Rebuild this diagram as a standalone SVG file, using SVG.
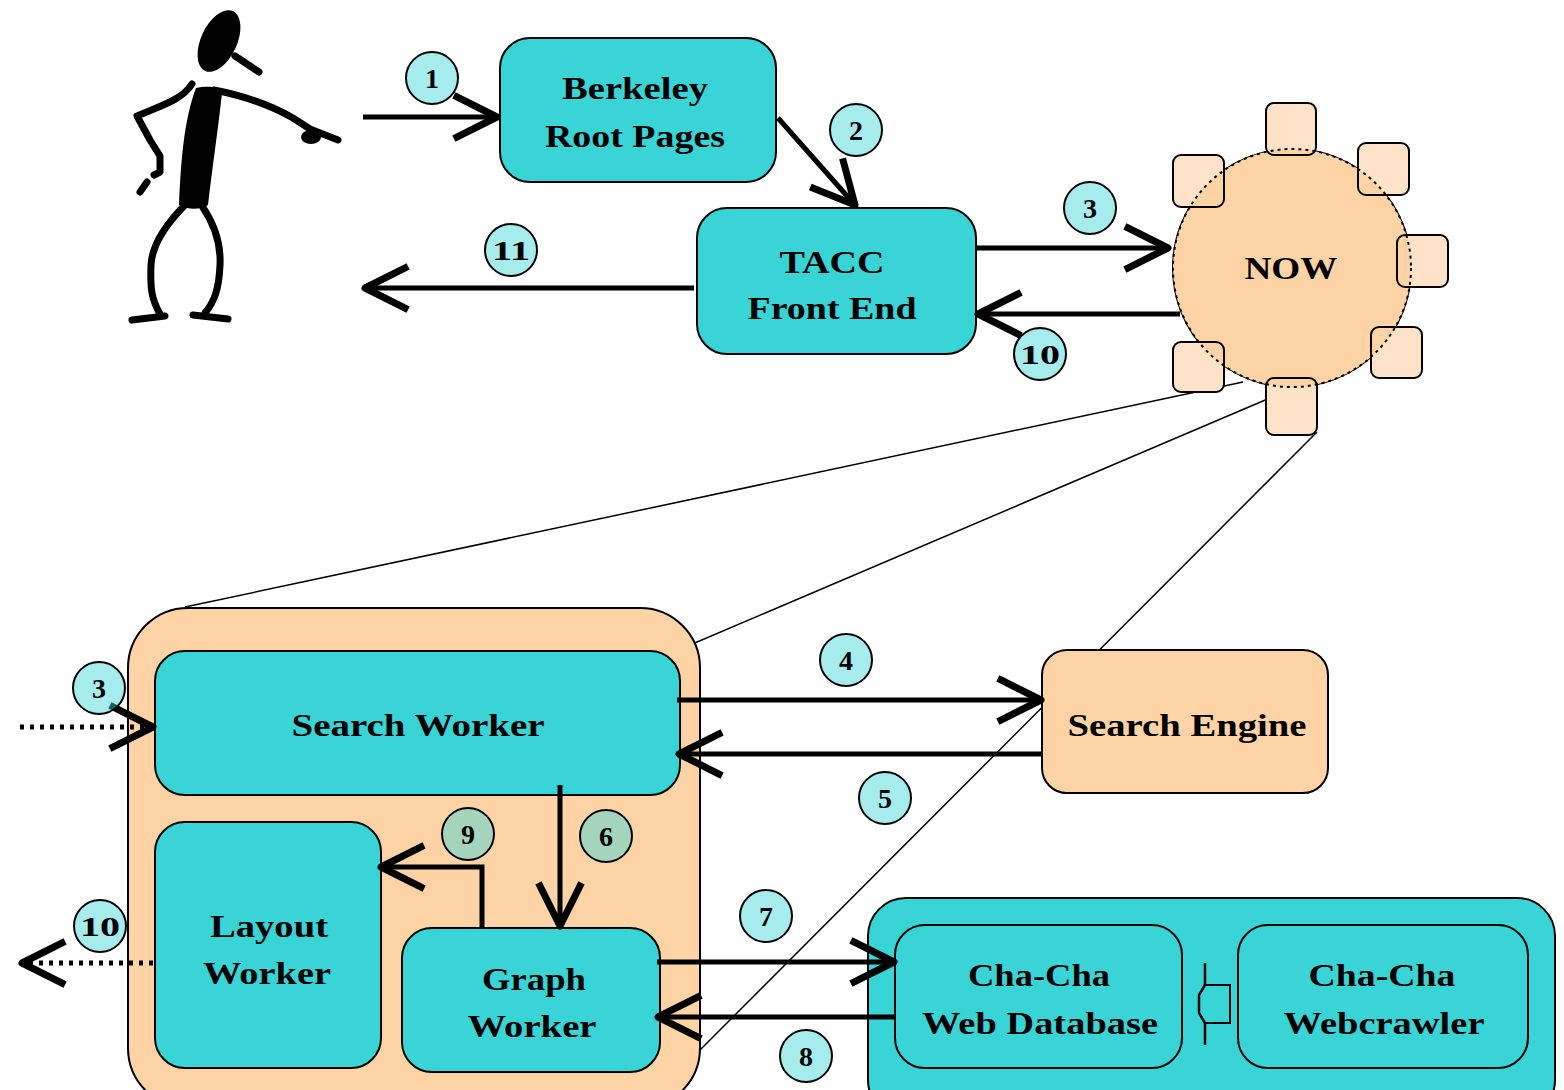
<svg xmlns="http://www.w3.org/2000/svg" width="1564" height="1090" viewBox="0 0 1564 1090">
  <defs>
    <marker id="ah" markerUnits="userSpaceOnUse" viewBox="-46 -26 52 52" markerWidth="52" markerHeight="52" refX="0" refY="0" orient="auto" overflow="visible">
      <path d="M-40,-20 L0,0 L-40,20" fill="none" stroke="#000" stroke-width="7" stroke-linejoin="round" stroke-linecap="square"/>
    </marker>
    <style>
      .cyan { fill: #39d4d6; stroke: #000; stroke-width: 2; }
      .peach { fill: #fed3a6; stroke: #000; stroke-width: 2; }
      .lbl { font-family: "Liberation Serif", "Times New Roman", serif; font-weight: bold; font-size: 32px; fill: #000; text-anchor: middle; }
      .num { font-family: "Liberation Serif", "Times New Roman", serif; font-weight: bold; font-size: 28px; fill: #000; text-anchor: middle; }
      .badge { fill: #39d4d6; fill-opacity: 0.45; stroke: #000; stroke-width: 2; }
      .arrow { fill: none; stroke: #000; stroke-width: 5; marker-end: url(#ah); }
      .dotted { stroke-dasharray: 4 6; }
      .thin { fill: none; stroke: #000; stroke-width: 1.5; }
      .fig { fill: none; stroke: #000; stroke-width: 7; stroke-linecap: round; stroke-linejoin: round; }
      .port { fill: #fee3c9; }
      .portline { fill: none; stroke: #000; stroke-width: 2; }
    </style>
  </defs>

  <rect width="1564" height="1090" fill="#fff"/>

  <!-- projection lines from the NOW cluster down to the expanded view -->
  <g id="projection-lines">
    <line class="thin" x1="1243" y1="382" x2="185" y2="607"/>
    <line class="thin" x1="1317" y1="378" x2="690" y2="645"/>
    <line class="thin" x1="1317" y1="432" x2="690" y2="1060"/>
  </g>

  <!-- user -->
  <g id="user">
    <ellipse cx="219" cy="41" rx="18" ry="33" transform="rotate(25 219 41)" fill="#000"/>
    <path class="fig" d="M235,56 L259,72"/>
    <path d="M196,88 C210,85 222,88 222,93 C218,130 212,170 208,205 C200,210 188,210 179,205 C181,160 184,120 196,88 Z" fill="#000"/>
    <path class="fig" d="M192,84 C182,100 160,106 137,116 L150,140 L160,156 L160,172 L154,175"/>
    <path class="fig" d="M140,192 L147,182"/>
    <path class="fig" d="M214,90 C240,95 270,105 293,118 L310,129 L338,140"/>
    <ellipse cx="311" cy="137" rx="10" ry="7" fill="#000"/>
    <path class="fig" d="M186,204 C165,225 152,245 151,265 C150,290 152,300 160,314"/>
    <path class="fig" d="M132,320 L165,316"/>
    <path class="fig" d="M202,206 C215,225 221,245 220,265 C219,290 214,302 205,313"/>
    <path class="fig" d="M193,315 L228,319"/>
  </g>

  <g id="berkeley-root-pages">
    <rect class="cyan" x="500" y="38" width="276" height="144" rx="30"/>
    <text class="lbl" x="635" y="99" textLength="146" lengthAdjust="spacingAndGlyphs">Berkeley</text>
    <text class="lbl" x="635" y="147" textLength="180" lengthAdjust="spacingAndGlyphs">Root Pages</text>
  </g>

  <g id="tacc-front-end">
    <rect class="cyan" x="697" y="208" width="279" height="146" rx="30"/>
    <text class="lbl" x="832" y="273" textLength="105" lengthAdjust="spacingAndGlyphs">TACC</text>
    <text class="lbl" x="832" y="319" textLength="169" lengthAdjust="spacingAndGlyphs">Front End</text>
  </g>

  <!-- network of workstations: ring of nodes round a shared core -->
  <g id="now">
    <circle cx="1292" cy="268" r="119" fill="#fed3a6" stroke="#000" stroke-width="2"/>
    <g class="port">
      <rect x="1266" y="103" width="50" height="52" rx="8"/>
      <rect x="1173" y="155" width="51" height="52" rx="8"/>
      <rect x="1358" y="143" width="51" height="52" rx="8"/>
      <rect x="1397" y="235" width="51" height="52" rx="8"/>
      <rect x="1371" y="327" width="51" height="51" rx="8"/>
      <rect x="1173" y="342" width="51" height="50" rx="8"/>
      <rect x="1266" y="378" width="51" height="57" rx="8"/>
    </g>
    <circle cx="1292" cy="268" r="119" fill="#fed3a6"/>
    <g class="portline">
      <rect x="1266" y="103" width="50" height="52" rx="8"/>
      <rect x="1173" y="155" width="51" height="52" rx="8"/>
      <rect x="1358" y="143" width="51" height="52" rx="8"/>
      <rect x="1397" y="235" width="51" height="52" rx="8"/>
      <rect x="1371" y="327" width="51" height="51" rx="8"/>
      <rect x="1173" y="342" width="51" height="50" rx="8"/>
      <rect x="1266" y="378" width="51" height="57" rx="8"/>
    </g>
    <circle cx="1292" cy="268" r="119" fill="none" stroke="#000" stroke-width="2" stroke-dasharray="3 4"/>
    <text class="lbl" x="1291" y="279" textLength="93" lengthAdjust="spacingAndGlyphs">NOW</text>
  </g>

  <!-- expanded view of one workstation -->
  <g id="worker-node">
    <rect class="peach" x="128" y="608" width="572" height="500" rx="60"/>
  </g>

  <g id="search-worker">
    <rect class="cyan" x="155" y="651" width="525" height="144" rx="30"/>
    <text class="lbl" x="418" y="736" textLength="253" lengthAdjust="spacingAndGlyphs">Search Worker</text>
  </g>

  <g id="layout-worker">
    <rect class="cyan" x="155" y="822" width="226" height="246" rx="30"/>
    <text class="lbl" x="269" y="937" textLength="118" lengthAdjust="spacingAndGlyphs">Layout</text>
    <text class="lbl" x="267" y="984" textLength="128" lengthAdjust="spacingAndGlyphs">Worker</text>
  </g>

  <g id="graph-worker">
    <rect class="cyan" x="402" y="928" width="258" height="144" rx="30"/>
    <text class="lbl" x="534" y="990" textLength="104" lengthAdjust="spacingAndGlyphs">Graph</text>
    <text class="lbl" x="532" y="1037" textLength="129" lengthAdjust="spacingAndGlyphs">Worker</text>
  </g>

  <g id="search-engine">
    <rect class="peach" x="1042" y="650" width="286" height="143" rx="25"/>
    <text class="lbl" x="1187" y="736" textLength="239" lengthAdjust="spacingAndGlyphs">Search Engine</text>
  </g>

  <g id="cha-cha">
    <rect class="cyan" x="868" y="898" width="687" height="220" rx="38"/>
  </g>

  <g id="cha-cha-web-database">
    <rect class="cyan" x="895" y="925" width="287" height="143" rx="30"/>
    <text class="lbl" x="1039" y="986" textLength="142" lengthAdjust="spacingAndGlyphs">Cha-Cha</text>
    <text class="lbl" x="1040" y="1034" textLength="236" lengthAdjust="spacingAndGlyphs">Web Database</text>
  </g>

  <g id="cha-cha-webcrawler">
    <rect class="cyan" x="1238" y="925" width="290" height="143" rx="30"/>
    <text class="lbl" x="1382" y="986" textLength="147" lengthAdjust="spacingAndGlyphs">Cha-Cha</text>
    <text class="lbl" x="1384" y="1034" textLength="201" lengthAdjust="spacingAndGlyphs">Webcrawler</text>
  </g>

  <!-- connectors -->
  <g id="connectors">
    <line class="arrow" x1="363" y1="117" x2="497" y2="117"/>
    <line class="arrow" x1="778" y1="118" x2="855" y2="205"/>
    <line class="arrow" x1="976" y1="248" x2="1168" y2="248"/>
    <line class="arrow" x1="1180" y1="314" x2="978" y2="314"/>
    <line class="arrow" x1="694" y1="288" x2="365" y2="288"/>
    <line class="arrow dotted" x1="20" y1="727" x2="153" y2="727"/>
    <line class="arrow dotted" x1="153" y1="963" x2="22" y2="963"/>
    <line class="arrow" x1="677" y1="700" x2="1041" y2="700"/>
    <line class="arrow" x1="1042" y1="754" x2="679" y2="754"/>
    <line class="arrow" x1="560" y1="785" x2="560" y2="926"/>
    <polyline class="arrow" points="482,928 482,867 381,867"/>
    <line class="arrow" x1="657" y1="962" x2="894" y2="962"/>
    <line class="arrow" x1="895" y1="1017" x2="658" y2="1017"/>
    <!-- coupling between the crawler and the database -->
    <path d="M1205,963 L1205,985 L1199,995 L1199,1013 L1205,1023 L1205,1045" fill="none" stroke="#000" stroke-width="2.5"/>
    <path d="M1205,985 H1230 V1023 H1205" fill="none" stroke="#000" stroke-width="2"/>
  </g>

  <!-- step numbers -->
  <g id="steps">
    <circle class="badge" cx="432" cy="78" r="26"/><text class="num" x="432" y="88">1</text>
    <circle class="badge" cx="856" cy="130" r="26"/><text class="num" x="856" y="140">2</text>
    <circle class="badge" cx="1090" cy="208" r="26"/><text class="num" x="1090" y="218">3</text>
    <circle class="badge" cx="1040" cy="354" r="26"/><text class="num" x="1040" y="364" textLength="40" lengthAdjust="spacingAndGlyphs">10</text>
    <circle class="badge" cx="511" cy="250" r="26"/><text class="num" x="511" y="260" textLength="38" lengthAdjust="spacingAndGlyphs">11</text>
    <circle class="badge" cx="99" cy="688" r="26"/><text class="num" x="99" y="698">3</text>
    <circle class="badge" cx="100" cy="926" r="26"/><text class="num" x="100" y="936" textLength="40" lengthAdjust="spacingAndGlyphs">10</text>
    <circle class="badge" cx="846" cy="660" r="26"/><text class="num" x="846" y="670">4</text>
    <circle class="badge" cx="885" cy="798" r="26"/><text class="num" x="885" y="808">5</text>
    <circle class="badge" cx="606" cy="836" r="26"/><text class="num" x="606" y="846">6</text>
    <circle class="badge" cx="468" cy="834" r="26"/><text class="num" x="468" y="844">9</text>
    <circle class="badge" cx="766" cy="916" r="26"/><text class="num" x="766" y="926">7</text>
    <circle class="badge" cx="806" cy="1056" r="26"/><text class="num" x="806" y="1066">8</text>
  </g>
</svg>
